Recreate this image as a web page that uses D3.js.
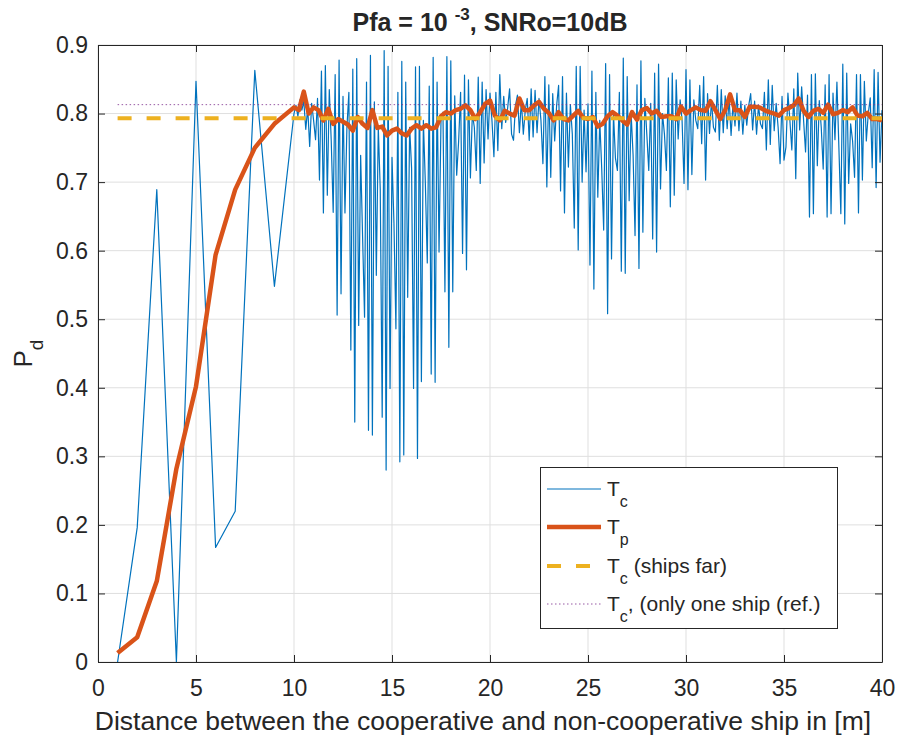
<!DOCTYPE html>
<html>
<head>
<meta charset="utf-8">
<script src="https://cdn.jsdelivr.net/npm/d3@7"></script>
<style>
  body { margin: 0; background: #fff; }
  svg { display: block; }
  text { font-family: "Liberation Sans", Arial, Helvetica, sans-serif; fill: #262626; }
</style>
</head>
<body>
<svg id="chart" width="898" height="744"></svg>
<script>
// ---- data -------------------------------------------------------------
// coarse distances (1 m steps) before the dense sweep
const coarseDistance = [1, 2, 3, 4, 5, 6, 7, 8, 9];
const tcCoarse = [0.000, 0.196, 0.689, 0.000, 0.847, 0.167, 0.220, 0.863, 0.548];

// Tp: coarse part (1..10 m)
const tpCoarseDistance = [1, 2, 3, 4, 5, 6, 7, 8, 9, 10];
const tpCoarse = [0.013, 0.036, 0.118, 0.282, 0.402, 0.594, 0.689, 0.750, 0.785, 0.809];

// dense sweep for Tc: 10.0 m .. 40.0 m in 0.1 m steps
const tcFineStart = 10.0;
const tcFineStep = 0.1;
const tcFine = [
  0.800,
  0.812, 0.796, 0.820, 0.805, 0.818, 0.777, 0.808, 0.752, 0.815, 0.790,
  0.762, 0.822, 0.703, 0.862, 0.655, 0.870, 0.681, 0.835, 0.760, 0.656,
  0.857, 0.506, 0.878, 0.537, 0.825, 0.655, 0.780, 0.831, 0.455, 0.865,
  0.350, 0.880, 0.491, 0.739, 0.620, 0.503, 0.846, 0.338, 0.885, 0.331,
  0.817, 0.564, 0.780, 0.690, 0.357, 0.892, 0.280, 0.869, 0.399, 0.736,
  0.640, 0.486, 0.831, 0.292, 0.876, 0.302, 0.846, 0.532, 0.780, 0.720,
  0.399, 0.868, 0.297, 0.869, 0.409, 0.790, 0.700, 0.582, 0.840, 0.420,
  0.882, 0.408, 0.846, 0.598, 0.790, 0.802, 0.540, 0.883, 0.459, 0.877,
  0.540, 0.826, 0.710, 0.760, 0.831, 0.596, 0.856, 0.572, 0.849, 0.706,
  0.800, 0.780, 0.717, 0.853, 0.698, 0.846, 0.728, 0.835, 0.763, 0.830,
  0.790, 0.737, 0.831, 0.746, 0.857, 0.778, 0.825, 0.787, 0.808, 0.836,
  0.770, 0.761, 0.812, 0.827, 0.772, 0.818, 0.770, 0.805, 0.822, 0.761,
  0.836, 0.766, 0.834, 0.772, 0.822, 0.790, 0.727, 0.854, 0.693, 0.842,
  0.707, 0.829, 0.760, 0.812, 0.841, 0.687, 0.854, 0.655, 0.830, 0.722,
  0.813, 0.770, 0.633, 0.869, 0.601, 0.869, 0.700, 0.805, 0.715, 0.814,
  0.579, 0.862, 0.544, 0.831, 0.678, 0.790, 0.720, 0.630, 0.873, 0.508,
  0.857, 0.588, 0.800, 0.735, 0.717, 0.831, 0.570, 0.881, 0.567, 0.854,
  0.673, 0.800, 0.740, 0.622, 0.842, 0.574, 0.877, 0.627, 0.822, 0.770,
  0.717, 0.815, 0.617, 0.859, 0.598, 0.872, 0.690, 0.800, 0.770, 0.717,
  0.852, 0.664, 0.859, 0.681, 0.849, 0.763, 0.820, 0.790, 0.698, 0.864,
  0.689, 0.849, 0.711, 0.820, 0.790, 0.778, 0.841, 0.756, 0.854, 0.703,
  0.829, 0.771, 0.819, 0.780, 0.773, 0.841, 0.761, 0.835, 0.772, 0.826,
  0.778, 0.822, 0.768, 0.815, 0.782, 0.830, 0.775, 0.818, 0.770, 0.812,
  0.783, 0.812, 0.829, 0.776, 0.818, 0.770, 0.812, 0.785, 0.778, 0.831,
  0.747, 0.849, 0.755, 0.841, 0.775, 0.815, 0.780, 0.727, 0.825, 0.732,
  0.751, 0.830, 0.790, 0.747, 0.836, 0.705, 0.859, 0.776, 0.839, 0.790,
  0.744, 0.827, 0.649, 0.857, 0.654, 0.858, 0.724, 0.819, 0.780, 0.719,
  0.842, 0.649, 0.857, 0.654, 0.830, 0.762, 0.846, 0.751, 0.654, 0.872,
  0.639, 0.859, 0.698, 0.785, 0.760, 0.707, 0.857, 0.655, 0.857, 0.703,
  0.847, 0.760, 0.800, 0.823, 0.721, 0.864, 0.692, 0.860, 0.729, 0.805
];

// dense sweep for Tp: 10.25 m .. 40.0 m in 0.25 m steps
const tpFineStart = 10.25;
const tpFineStep = 0.25;
const tpFine = [
  0.805, 0.832, 0.800, 0.809, 0.805, 0.790, 0.807, 0.785, 0.792, 0.788,
  0.784, 0.775, 0.795, 0.785, 0.779, 0.805, 0.779, 0.781, 0.768, 0.775,
  0.778, 0.771, 0.768, 0.778, 0.783, 0.778, 0.783, 0.778, 0.780, 0.796,
  0.802, 0.800, 0.805, 0.807, 0.812, 0.805, 0.792, 0.802, 0.814, 0.819,
  0.797, 0.790, 0.804, 0.800, 0.797, 0.822, 0.805, 0.805, 0.812, 0.817,
  0.807, 0.801, 0.790, 0.802, 0.792, 0.790, 0.797, 0.804, 0.794, 0.792,
  0.795, 0.781, 0.785, 0.796, 0.802, 0.797, 0.790, 0.784, 0.802, 0.791,
  0.805, 0.808, 0.800, 0.804, 0.795, 0.796, 0.796, 0.792, 0.810, 0.800,
  0.805, 0.809, 0.805, 0.804, 0.818, 0.805, 0.792, 0.805, 0.828, 0.805,
  0.805, 0.795, 0.810, 0.810, 0.809, 0.805, 0.802, 0.800, 0.797, 0.805,
  0.808, 0.812, 0.822, 0.804, 0.795, 0.804, 0.807, 0.801, 0.813, 0.799,
  0.801, 0.805, 0.802, 0.809, 0.797, 0.796, 0.801, 0.792, 0.792, 0.790
];

// reference levels, drawn across the whole distance range
const refRange = [1, 40];
const tcShipsFar = 0.793;
const tcSingleShip = 0.813;

const xTicks = [0, 5, 10, 15, 20, 25, 30, 35, 40];
const xTickLabels = ["0", "5", "10", "15", "20", "25", "30", "35", "40"];
const yTicks = [0, 0.1, 0.2, 0.3, 0.4, 0.5, 0.6, 0.7, 0.8, 0.9];
const yTickLabels = ["0", "0.1", "0.2", "0.3", "0.4", "0.5", "0.6", "0.7", "0.8", "0.9"];

// ---- build point lists ------------------------------------------------
const tcPoints = coarseDistance.map((d, i) => [d, tcCoarse[i]])
  .concat(tcFine.map((v, i) => [tcFineStart + i * tcFineStep, v]));
const tpPoints = tpCoarseDistance.map((d, i) => [d, tpCoarse[i]])
  .concat(tpFine.map((v, i) => [tpFineStart + i * tpFineStep, v]));

// ---- layout -----------------------------------------------------------
const plot = { left: 98, right: 882, top: 45, bottom: 662 };
const colors = { tc: "#0072BD", tp: "#D95319", far: "#EDB120", single: "#7E2F8E", axis: "#262626", grid: "#dfdfdf" };

const svg = d3.select("#chart");
const x = d3.scaleLinear().domain([0, 40]).range([plot.left, plot.right]);
const y = d3.scaleLinear().domain([0, 0.9]).range([plot.bottom, plot.top]);

// grid
const grid = svg.append("g").attr("class", "grid");
grid.selectAll("line.gx").data(xTicks).join("line")
  .attr("x1", d => x(d)).attr("x2", d => x(d))
  .attr("y1", plot.top).attr("y2", plot.bottom)
  .attr("stroke", colors.grid).attr("stroke-width", 1);
grid.selectAll("line.gy").data(yTicks).join("line")
  .attr("x1", plot.left).attr("x2", plot.right)
  .attr("y1", d => y(d)).attr("y2", d => y(d))
  .attr("stroke", colors.grid).attr("stroke-width", 1);

// series
const line = d3.line().x(d => x(d[0])).y(d => y(d[1]));
svg.append("clipPath").attr("id", "plotClip").append("rect")
  .attr("x", plot.left).attr("y", plot.top - 2)
  .attr("width", plot.right - plot.left).attr("height", plot.bottom - plot.top + 4);

const series = svg.append("g").attr("clip-path", "url(#plotClip)");
series.append("path").datum(tcPoints)
  .attr("d", line).attr("fill", "none")
  .attr("stroke", colors.tc).attr("stroke-width", 1.2).attr("stroke-linejoin", "round");
series.append("path").datum(tpPoints)
  .attr("d", line).attr("fill", "none")
  .attr("stroke", colors.tp).attr("stroke-width", 4.5).attr("stroke-linejoin", "round");
series.append("path").datum(refRange.map(d => [d, tcShipsFar]))
  .attr("d", line).attr("fill", "none")
  .attr("stroke", colors.far).attr("stroke-width", 4).attr("stroke-dasharray", "14,15");
series.append("path").datum(refRange.map(d => [d, tcSingleShip]))
  .attr("d", line).attr("fill", "none")
  .attr("stroke", colors.single).attr("stroke-width", 1).attr("stroke-opacity", 0.8)
  .attr("stroke-dasharray", "1.5,2.5");

// axes (ticks pointing inwards on all four sides)
const tickFont = 23;
function styleAxis(g) {
  g.select(".domain").attr("stroke", colors.axis);
  g.selectAll(".tick line").attr("stroke", colors.axis);
  g.selectAll(".tick text").attr("fill", colors.axis).style("font-size", tickFont + "px");
}
svg.append("g").attr("transform", `translate(0,${plot.bottom})`)
  .call(d3.axisBottom(x).tickValues(xTicks).tickFormat((d, i) => xTickLabels[i])
    .tickSizeInner(-7).tickSizeOuter(0).tickPadding(18))
  .call(styleAxis);
svg.append("g").attr("transform", `translate(${plot.left},0)`)
  .call(d3.axisLeft(y).tickValues(yTicks).tickFormat((d, i) => yTickLabels[i])
    .tickSizeInner(-7).tickSizeOuter(0).tickPadding(10))
  .call(styleAxis);
svg.append("g").attr("transform", `translate(0,${plot.top})`)
  .call(d3.axisTop(x).tickValues(xTicks).tickFormat("").tickSizeInner(-7).tickSizeOuter(0))
  .call(styleAxis);
svg.append("g").attr("transform", `translate(${plot.right},0)`)
  .call(d3.axisRight(y).tickValues(yTicks).tickFormat("").tickSizeInner(-7).tickSizeOuter(0))
  .call(styleAxis);

// title
const title = svg.append("text")
  .attr("x", (plot.left + plot.right) / 2).attr("y", 31)
  .attr("text-anchor", "middle")
  .style("font-size", "25px").style("font-weight", "bold");
title.append("tspan").text("Pfa = 10 ");
title.append("tspan").attr("dy", -11).style("font-size", "17px").text("-3");
title.append("tspan").attr("dy", 11).text(", SNRo=10dB");

// x label
svg.append("text")
  .attr("x", (plot.left + plot.right) / 2 - 7).attr("y", 730)
  .attr("text-anchor", "middle").style("font-size", "26.5px")
  .text("Distance between the cooperative and non-cooperative ship in [m]");

// y label (P with subscript d), rotated
const yl = svg.append("text")
  .attr("transform", `translate(32,${(plot.top + plot.bottom) / 2}) rotate(-90)`)
  .attr("text-anchor", "middle").style("font-size", "26px");
yl.append("tspan").text("P");
yl.append("tspan").attr("dy", 11).style("font-size", "19px").text("d");

// legend
const legend = svg.append("g");
const lg = { x: 540, y: 467, w: 297, h: 161 };
legend.append("rect")
  .attr("x", lg.x + 0.5).attr("y", lg.y + 0.5).attr("width", lg.w).attr("height", lg.h)
  .attr("fill", "#fff").attr("stroke", colors.axis).attr("stroke-width", 1);

const legendItems = [
  { sub: "c", rest: "", color: colors.tc, width: 1.2, dash: null },
  { sub: "p", rest: "", color: colors.tp, width: 4.5, dash: null },
  { sub: "c", rest: " (ships far)", color: colors.far, width: 4, dash: "14,15" },
  { sub: "c", rest: ", (only one ship (ref.)", color: colors.single, width: 1, dash: "1.5,2.5" }
];
const rowY = [489, 527, 566, 604];
legendItems.forEach((it, i) => {
  const ly = rowY[i];
  legend.append("line")
    .attr("x1", 547).attr("x2", 601).attr("y1", ly).attr("y2", ly)
    .attr("stroke", it.color).attr("stroke-width", it.width)
    .attr("stroke-dasharray", it.dash)
    .attr("stroke-opacity", i === 3 ? 0.8 : 1);
  const t = legend.append("text").attr("x", 607).attr("y", ly + 7).style("font-size", "21px");
  t.append("tspan").text("T");
  t.append("tspan").attr("dy", 11).style("font-size", "16px").text(it.sub);
  if (it.rest) t.append("tspan").attr("dy", -11).text(it.rest);
});
</script>
</body>
</html>
